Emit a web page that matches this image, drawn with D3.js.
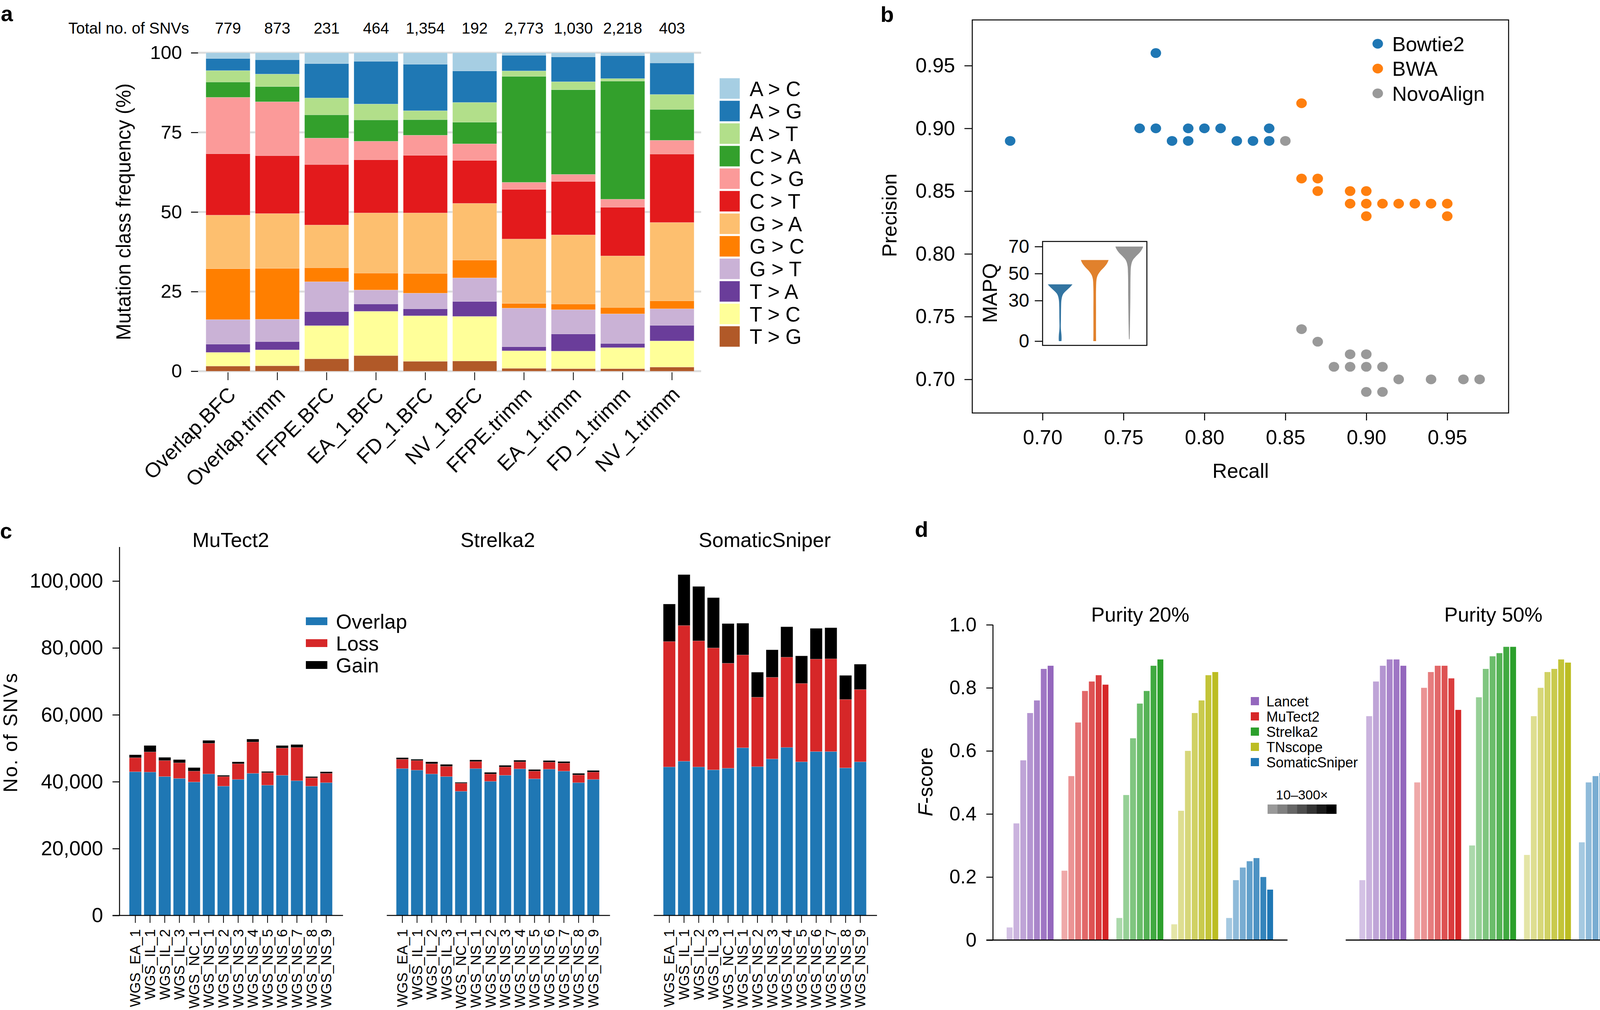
<!DOCTYPE html>
<html><head><meta charset="utf-8">
<script src="https://cdn.jsdelivr.net/npm/d3@7"></script>
<style>body{margin:0;background:#fff}svg{display:block}text{font-family:"Liberation Sans",Arial,Helvetica,sans-serif;fill:#000}</style>
</head><body>
<script>
// ---------------- DATA ----------------
// Panel a
const samplesA = ["Overlap.BFC","Overlap.trimm","FFPE.BFC","EA_1.BFC","FD_1.BFC","NV_1.BFC","FFPE.trimm","EA_1.trimm","FD_1.trimm","NV_1.trimm"];
const totalsA = [779, 873, 231, 464, 1354, 192, 2773, 1030, 2218, 403];
const classesA = ["A > C","A > G","A > T","C > A","C > G","C > T","G > A","G > C","G > T","T > A","T > C","T > G"];
const classColorsA = ["#a6cee3","#1f78b4","#b2df8a","#33a02c","#fb9a99","#e31a1c","#fdbf6f","#ff7f00","#cab2d6","#6a3d9a","#ffff99","#b15928"];
const freqAC = [1.8, 2.2, 3.4, 2.7, 3.6, 5.7, 0.8, 1.3, 0.9, 3.2];
const freqAG = [3.8, 4.5, 10.8, 13.4, 14.6, 9.9, 4.9, 7.8, 7.2, 9.9];
const freqAT = [3.6, 3.9, 5.3, 5.0, 2.8, 6.2, 1.7, 2.5, 0.8, 4.7];
const freqCA = [4.8, 4.8, 7.3, 6.7, 4.9, 6.8, 33.3, 26.6, 37.1, 9.7];
const freqCG = [17.7, 16.9, 8.3, 5.8, 6.3, 5.2, 2.2, 2.2, 2.5, 4.3];
const freqCT = [19.3, 18.2, 19.0, 16.7, 18.1, 13.5, 15.6, 16.8, 15.3, 21.5];
const freqGA = [16.8, 17.2, 13.4, 18.9, 19.0, 17.8, 20.2, 21.7, 16.2, 24.6];
const freqGC = [16.0, 16.0, 4.4, 5.3, 6.2, 5.6, 1.5, 1.8, 2.0, 2.5];
const freqGT = [7.7, 7.0, 9.4, 4.4, 4.9, 7.4, 12.1, 7.6, 9.3, 5.2];
const freqTA = [2.6, 2.6, 4.4, 2.3, 2.2, 4.7, 1.3, 5.4, 1.3, 4.9];
const freqTC = [4.3, 5.0, 10.4, 13.9, 14.3, 14.0, 5.5, 5.5, 6.6, 8.2];
const freqTG = [1.6, 1.7, 3.9, 4.9, 3.1, 3.2, 0.9, 0.8, 0.8, 1.3];
const yTicksA = [0, 25, 50, 75, 100];

// Panel b
const bowtie2Pts = [[0.68,0.89],[0.77,0.96],[0.76,0.90],[0.77,0.90],[0.78,0.89],[0.79,0.90],[0.79,0.89],[0.80,0.90],[0.81,0.90],[0.82,0.89],[0.83,0.89],[0.84,0.90],[0.84,0.89]];
const bwaPts = [[0.86,0.92],[0.86,0.86],[0.87,0.86],[0.87,0.85],[0.89,0.85],[0.89,0.84],[0.90,0.85],[0.90,0.84],[0.90,0.83],[0.91,0.84],[0.92,0.84],[0.93,0.84],[0.94,0.84],[0.95,0.84],[0.95,0.83]];
const novoPts = [[0.85,0.89],[0.86,0.74],[0.87,0.73],[0.88,0.71],[0.89,0.72],[0.89,0.71],[0.90,0.72],[0.90,0.71],[0.90,0.69],[0.91,0.71],[0.91,0.69],[0.92,0.70],[0.94,0.70],[0.96,0.70],[0.97,0.70]];
const alignerNames = ["Bowtie2","BWA","NovoAlign"];
const alignerColors = ["#1f77b4","#ff7f0e","#999999"];
const violinColors = ["#3274a1","#e1812c","#939393"];
const xTicksB = [0.70,0.75,0.80,0.85,0.90,0.95];
const yTicksB = [0.70,0.75,0.80,0.85,0.90,0.95];
const mapqTicks = [0,30,50,70];
// MAPQ density profiles [mapq, relative density]
const violinBowtie2 = [[0,0.094],[1.7,0.103],[4.6,0.094],[8.5,0.056],[11.4,0.047],[16.2,0.056],[24.9,0.066],[29.7,0.085],[32.6,0.133],[34.6,0.205],[36.5,0.356],[38.4,0.552],[40.4,0.757],[42,0.89]];
const violinBWA = [[0,0.10],[3.7,0.094],[21,0.094],[40.4,0.10],[46.2,0.14],[49,0.23],[51.9,0.42],[54.8,0.69],[57.7,0.90],[60,1.0]];
const violinNovo = [[1.3,0.019],[2.7,0.028],[11.4,0.047],[30.7,0.075],[50,0.094],[55.8,0.13],[59.7,0.245],[62.6,0.47],[65.5,0.75],[68.4,0.94],[70,1.0]];

// Panel c
const samplesC = ["WGS_EA_1","WGS_IL_1","WGS_IL_2","WGS_IL_3","WGS_NC_1","WGS_NS_1","WGS_NS_2","WGS_NS_3","WGS_NS_4","WGS_NS_5","WGS_NS_6","WGS_NS_7","WGS_NS_8","WGS_NS_9"];
const callersC = ["MuTect2","Strelka2","SomaticSniper"];
const mutect2Overlap = [42970,42870,41530,40960,39900,42300,38660,40670,42490,38950,41910,40290,38660,39710];
const mutect2Loss = [4210,6030,4790,4690,3260,9180,2870,4690,9380,3730,8140,9950,2490,2780];
const mutect2Gain = [860,1910,950,950,1050,860,380,570,860,380,760,860,380,480];
const strelka2Overlap = [43920,43450,42300,41530,37130,43920,40100,41910,43830,40860,43730,43160,39710,40670];
const strelka2Loss = [2780,2870,3060,3060,2390,2110,2200,2490,2100,2300,2110,2390,2300,2200];
const strelka2Gain = [480,380,570,580,290,480,480,480,480,480,480,480,480,480];
const sniperOverlap = [44400,46120,44400,43540,44020,50140,44500,46790,50240,45930,49000,49000,44120,45930];
const sniperLoss = [37510,40580,37710,36460,31390,27760,20760,24410,26990,23450,27650,27750,20470,21630];
const sniperGain = [11200,15210,16260,15020,11860,9470,7470,8230,9090,8230,9190,9280,7180,7560];
const partsC = ["Overlap","Loss","Gain"];
const partColorsC = ["#1f77b4","#d62728","#000000"];
const yTicksC = [0,20000,40000,60000,80000,100000];

// Panel d
const toolsD = ["Lancet","MuTect2","Strelka2","TNscope","SomaticSniper"];
const toolColorsD = ["#9467bd","#d62728","#2ca02c","#bcbd22","#1f77b4"];
const coverageD = ["10x","20x","30x","50x","80x","150x","300x"];
const purityD = ["Purity 20%","Purity 50%"];
const p20Lancet = [0.04,0.37,0.57,0.72,0.76,0.86,0.87];
const p20MuTect2 = [0.22,0.52,0.69,0.79,0.82,0.84,0.81];
const p20Strelka2 = [0.07,0.46,0.64,0.75,0.79,0.87,0.89];
const p20TNscope = [0.05,0.41,0.60,0.72,0.76,0.84,0.85];
const p20Sniper = [0.07,0.19,0.23,0.25,0.26,0.20,0.16];
const p50Lancet = [0.19,0.71,0.82,0.87,0.89,0.89,0.87];
const p50MuTect2 = [0.50,0.80,0.85,0.87,0.87,0.83,0.73];
const p50Strelka2 = [0.30,0.77,0.86,0.90,0.91,0.93,0.93];
const p50TNscope = [0.27,0.71,0.80,0.85,0.86,0.89,0.88];
const p50Sniper = [0.31,0.50,0.52,0.53,0.54,0.50,0.51];
const coverageShade = [0.4,0.5,0.6,0.7,0.8,0.9,1.0];
const yTicksD = [0,0.2,0.4,0.6,0.8,1.0];

// ---------------- DRAW ----------------
const W = 4200, H = 2585;
const svg = d3.select("body").append("svg").attr("width", W).attr("height", H);
svg.append("rect").attr("width", W).attr("height", H).attr("fill", "#fff");
const boldFont = '"Liberation Sans Narrow","Liberation Sans",Arial,sans-serif';

function styleAxis(g, fs, sw) {
  g.select(".domain").remove();
  g.selectAll(".tick line").attr("stroke", "#000").attr("stroke-width", sw || 2.5);
  g.selectAll(".tick text").attr("font-size", fs).attr("font-family", '"Liberation Sans",Arial,sans-serif').attr("fill", "#000");
}
function panelLabel(t, x, y) {
  svg.append("text").attr("x", x).attr("y", y).text(t).attr("font-size", 56).attr("font-weight", "bold").attr("font-family", boldFont);
}

// ===== Panel a =====
(function () {
  const g = svg.append("g");
  const xA = d3.scaleBand().domain(samplesA).range([520.5, 1783.5]).paddingInner(0.105).paddingOuter(0.0527);
  const yA = d3.scaleLinear().domain([0, 100]).range([950, 135]);
  const cols = [freqAC, freqAG, freqAT, freqCA, freqCG, freqCT, freqGA, freqGC, freqGT, freqTA, freqTC, freqTG];
  const rows = samplesA.map((s, i) => {
    const r = { sample: s };
    classesA.forEach((c, k) => r[c] = cols[k][i]);
    return r;
  });
  const keysBottomUp = classesA.slice().reverse();
  const color = d3.scaleOrdinal().domain(classesA).range(classColorsA);
  const stacked = d3.stack().keys(keysBottomUp)(rows);

  g.selectAll("line.grid").data(yTicksA).join("line")
    .attr("x1", 507).attr("x2", 1795).attr("y1", d => yA(d)).attr("y2", d => yA(d))
    .attr("stroke", "#dcdcdc").attr("stroke-width", 5);

  const ax = g.append("g").attr("transform", "translate(507,0)")
    .call(d3.axisLeft(yA).tickValues(yTicksA).tickSize(18).tickPadding(23));
  styleAxis(ax, 49);

  g.selectAll("g.layer").data(stacked).join("g").attr("fill", d => color(d.key))
    .selectAll("rect").data(d => d).join("rect")
    .attr("x", d => xA(d.data.sample)).attr("width", xA.bandwidth())
    .attr("y", d => yA(d[1])).attr("height", d => Math.max(0, yA(d[0]) - yA(d[1])))
    .attr("stroke", "rgba(255,255,255,0.35)").attr("stroke-width", 1);

  const bx = g.append("g").attr("transform", "translate(0,953)")
    .call(d3.axisBottom(xA).tickSize(20).tickFormat(""));
  styleAxis(bx, 49, 2);
  g.selectAll("text.xl").data(samplesA).join("text")
    .attr("transform", d => `translate(${xA(d) + xA.bandwidth() / 2 + 10},1000) rotate(-45)`)
    .attr("text-anchor", "end").attr("dy", "0.35em").attr("font-size", 53).text(d => d);

  g.append("text").attr("x", 484).attr("y", 86).attr("text-anchor", "end").attr("font-size", 40).text("Total no. of SNVs");
  g.selectAll("text.tot").data(totalsA).join("text")
    .attr("x", (d, i) => xA(samplesA[i]) + xA.bandwidth() / 2).attr("y", 86)
    .attr("text-anchor", "middle").attr("font-size", 40).text(d => d3.format(",")(d));

  g.append("text").attr("transform", "translate(334,542) rotate(-90)").attr("text-anchor", "middle")
    .attr("font-size", 51).text("Mutation class frequency (%)");

  const lg = g.append("g");
  classesA.forEach((c, i) => {
    const y0 = 200 + i * 57.7;
    lg.append("rect").attr("x", 1842).attr("y", y0).attr("width", 52).attr("height", 53)
      .attr("fill", color(c)).attr("stroke", "rgba(255,255,255,0.5)").attr("stroke-width", 1);
    lg.append("text").attr("x", 1919).attr("y", y0 + 26.5).attr("dy", "0.36em").attr("font-size", 53).text(c);
  });
  panelLabel("a", 2, 54);
})();

// ===== Panel b =====
(function () {
  const g = svg.append("g");
  const xB = d3.scaleLinear().domain([0.6566, 0.9879]).range([2489, 3862]);
  const yB = d3.scaleLinear().domain([0.6732, 0.9864]).range([1057, 51]);
  const ay = g.append("g").attr("transform", "translate(2489,0)")
    .call(d3.axisLeft(yB).tickValues(yTicksB).tickFormat(d3.format(".2f")).tickSize(20).tickPadding(24));
  styleAxis(ay, 52);
  const axb = g.append("g").attr("transform", "translate(0,1057)")
    .call(d3.axisBottom(xB).tickValues(xTicksB).tickFormat(d3.format(".2f")).tickSize(19).tickPadding(24));
  styleAxis(axb, 52);
  g.append("rect").attr("x", 2489).attr("y", 51).attr("width", 3862 - 2489).attr("height", 1057 - 51)
    .attr("fill", "none").attr("stroke", "#000").attr("stroke-width", 2.5);

  const sets = [bowtie2Pts, bwaPts, novoPts];
  sets.forEach((pts, k) => {
    g.selectAll(null).data(pts).join("ellipse")
      .attr("cx", d => xB(d[0])).attr("cy", d => yB(d[1])).attr("rx", 13.5).attr("ry", 12.5)
      .attr("fill", alignerColors[k]);
  });
  alignerNames.forEach((n, k) => {
    const cy = 112 + k * 63.5;
    g.append("ellipse").attr("cx", 3527).attr("cy", cy).attr("rx", 13.5).attr("ry", 12.5).attr("fill", alignerColors[k]);
    g.append("text").attr("x", 3564).attr("y", cy).attr("dy", "0.36em").attr("font-size", 52).text(n);
  });
  g.append("text").attr("x", 3176).attr("y", 1223).attr("text-anchor", "middle").attr("font-size", 52).text("Recall");
  g.append("text").attr("transform", "translate(2295,551) rotate(-90)").attr("text-anchor", "middle").attr("font-size", 52).text("Precision");

  const yI = d3.scaleLinear().domain([0, 70]).range([873, 631]);
  g.append("rect").attr("x", 2669).attr("y", 618).attr("width", 267).attr("height", 266)
    .attr("fill", "#fff").attr("stroke", "#000").attr("stroke-width", 2.5);
  const ai = g.append("g").attr("transform", "translate(2669,0)")
    .call(d3.axisLeft(yI).tickValues(mapqTicks).tickSize(20).tickPadding(14));
  styleAxis(ai, 48);
  g.append("text").attr("transform", "translate(2552,750) rotate(-90)").attr("text-anchor", "middle").attr("font-size", 52).text("MAPQ");
  const wScale = d3.scaleLinear().domain([0, 1]).range([0, 35.5]);
  const xV = d3.scalePoint().domain(alignerNames).range([2714, 2891]);
  [violinBowtie2, violinBWA, violinNovo].forEach((prof, k) => {
    const cx = xV(alignerNames[k]);
    const area = d3.area().curve(d3.curveCatmullRom)
      .x0(d => cx - wScale(d[1])).x1(d => cx + wScale(d[1])).y(d => yI(d[0]));
    g.append("path").attr("d", area(prof)).attr("fill", violinColors[k]);
  });
  panelLabel("b", 2254, 56);
})();

// ===== Panel c =====
(function () {
  const g = svg.append("g");
  const yC = d3.scaleLinear().domain([0, 110000]).range([2343, 1401.4]);
  const ay = g.append("g").attr("transform", "translate(306,0)")
    .call(d3.axisLeft(yC).tickValues(yTicksC).tickFormat(d3.format(",")).tickSize(18).tickPadding(24));
  styleAxis(ay, 52);
  g.append("line").attr("x1", 306).attr("x2", 306).attr("y1", 1400).attr("y2", 2344).attr("stroke", "#000").attr("stroke-width", 2.5);
  const color = d3.scaleOrdinal().domain(partsC).range(partColorsC);
  const groups = [[mutect2Overlap, mutect2Loss, mutect2Gain], [strelka2Overlap, strelka2Loss, strelka2Gain], [sniperOverlap, sniperLoss, sniperGain]];
  const xG = d3.scaleBand().domain(callersC).range([327.7, 327.7 + 3 * 683.5]);
  groups.forEach((arrs, gi) => {
    const x0 = xG(callersC[gi]);
    const xC = d3.scaleBand().domain(samplesC).range([x0, x0 + 526.4]).paddingInner(0.175).paddingOuter(0.0875);
    const rows = samplesC.map((s, i) => ({ sample: s, Overlap: arrs[0][i], Loss: arrs[1][i], Gain: arrs[2][i] }));
    const st = d3.stack().keys(partsC)(rows);
    g.append("g").selectAll("g").data(st).join("g").attr("fill", d => color(d.key))
      .selectAll("rect").data(d => d).join("rect")
      .attr("x", d => xC(d.data.sample)).attr("width", xC.bandwidth())
      .attr("y", d => yC(d[1])).attr("height", d => yC(d[0]) - yC(d[1]))
      .attr("stroke", "rgba(255,255,255,0.3)").attr("stroke-width", 1);
    const lineStart = gi === 0 ? 288 : x0 - 21;
    g.append("line").attr("x1", lineStart).attr("x2", x0 + 526.4 + 24).attr("y1", 2343).attr("y2", 2343)
      .attr("stroke", "#000").attr("stroke-width", 2.5);
    const bx = g.append("g").attr("transform", "translate(0,2344)").call(d3.axisBottom(xC).tickSize(18).tickFormat(""));
    styleAxis(bx, 37, 2);
    g.selectAll(null).data(samplesC).join("text")
      .attr("transform", d => `translate(${xC(d) + xC.bandwidth() / 2},2378) rotate(-90)`)
      .attr("text-anchor", "end").attr("dy", "0.35em").attr("font-size", 37).text(d => d);
    g.append("text").attr("x", x0 + 263).attr("y", 1400).attr("text-anchor", "middle").attr("font-size", 52).text(callersC[gi]);
  });
  partsC.forEach((p, i) => {
    g.append("rect").attr("x", 783).attr("y", 1580 + i * 56).attr("width", 55).attr("height", 20).attr("fill", color(p));
    g.append("text").attr("x", 860).attr("y", 1590 + i * 56).attr("dy", "0.36em").attr("font-size", 52).text(p);
  });
  g.append("text").attr("transform", "translate(44,1874) rotate(-90)").attr("text-anchor", "middle")
    .attr("font-size", 50).attr("letter-spacing", 3).text("No. of SNVs");
  panelLabel("c", 0, 1378);
})();

// ===== Panel d =====
(function () {
  const g = svg.append("g");
  const yD = d3.scaleLinear().domain([0, 1]).range([2406, 1599]);
  const ay = g.append("g").attr("transform", "translate(2542,0)")
    .call(d3.axisLeft(yD).tickValues(yTicksD).tickFormat(d => d === 0 ? "0" : d3.format(".1f")(d)).tickSize(17).tickPadding(25));
  styleAxis(ay, 50);
  g.append("line").attr("x1", 2542).attr("x2", 2542).attr("y1", 1599).attr("y2", 2406).attr("stroke", "#000").attr("stroke-width", 2.5);
  const data = [[p20Lancet, p20MuTect2, p20Strelka2, p20TNscope, p20Sniper], [p50Lancet, p50MuTect2, p50Strelka2, p50TNscope, p50Sniper]];
  const xP = d3.scalePoint().domain(purityD).range([2575.8, 2575.8 + 903]);
  const shade = d3.scaleOrdinal().domain(coverageD).range(coverageShade);
  const tcol = d3.scaleOrdinal().domain(toolsD).range(toolColorsD);
  const baseLines = [[2525, 3296], [3445, 4200]];
  const titleX = [2919, 3823];
  data.forEach((tools, pi) => {
    const s0 = xP(purityD[pi]);
    const xT = d3.scaleBand().domain(toolsD).range([s0, s0 + 684.5]).paddingInner(0.128);
    const xCov = d3.scaleBand().domain(coverageD).range([0, xT.bandwidth()]).paddingInner(0.14).paddingOuter(0.07);
    tools.forEach((vals, ti) => {
      const tool = toolsD[ti];
      const c = d3.color(tcol(tool));
      g.selectAll(null).data(vals.map((v, k) => ({ v, cov: coverageD[k] }))).join("rect")
        .attr("x", d => xT(tool) + xCov(d.cov)).attr("width", xCov.bandwidth())
        .attr("y", d => yD(d.v)).attr("height", d => yD(0) - yD(d.v))
        .attr("fill", d => d3.interpolateRgb("#ffffff", c.formatHex())(shade(d.cov)));
    });
    g.append("line").attr("x1", baseLines[pi][0]).attr("x2", baseLines[pi][1]).attr("y1", 2406).attr("y2", 2406)
      .attr("stroke", "#000").attr("stroke-width", 3);
    g.append("text").attr("x", titleX[pi]).attr("y", 1591).attr("text-anchor", "middle").attr("font-size", 52).text(purityD[pi]);
  });
  toolsD.forEach((t, i) => {
    g.append("rect").attr("x", 3202).attr("y", 1784 + i * 39).attr("width", 21).attr("height", 21).attr("fill", tcol(t));
    g.append("text").attr("x", 3242).attr("y", 1795 + i * 39).attr("dy", "0.36em").attr("font-size", 36).text(t);
  });
  g.append("text").attr("x", 3333).attr("y", 2046).attr("text-anchor", "middle").attr("font-size", 34).text("10–300×");
  const xGrey = d3.scaleBand().domain(coverageD).range([3245, 3421]);
  g.selectAll(null).data(coverageD).join("rect")
    .attr("x", d => xGrey(d)).attr("width", xGrey.bandwidth() + 0.5).attr("y", 2059).attr("height", 24)
    .attr("fill", d => d3.interpolateRgb("#ffffff", "#000000")(shade(d)));
  const ft = g.append("text").attr("transform", "translate(2387,2001) rotate(-90)").attr("text-anchor", "middle").attr("font-size", 52);
  ft.append("tspan").attr("font-style", "italic").text("F");
  ft.append("tspan").text("-score");
  panelLabel("d", 2342, 1374);
})();
</script>
</body></html>
